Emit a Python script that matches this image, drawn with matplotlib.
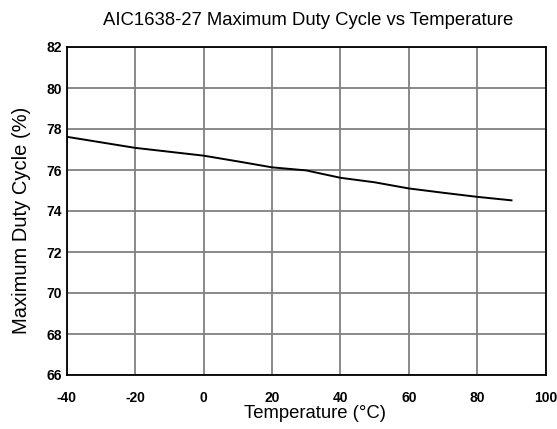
import matplotlib
matplotlib.use('Agg')
import matplotlib.pyplot as plt

plt.rcParams['font.family'] = ['Liberation Sans', 'DejaVu Sans']
plt.rcParams['axes.unicode_minus'] = False

temperature = [-40, -30, -20, -10, 0, 10, 20, 30, 40, 50, 60, 70, 80, 90]
duty_cycle = [77.62, 77.35, 77.08, 76.89, 76.70, 76.42, 76.13, 75.98,
              75.62, 75.40, 75.10, 74.89, 74.69, 74.52]
x_ticks = [-40, -20, 0, 20, 40, 60, 80, 100]
y_ticks = [66, 68, 70, 72, 74, 76, 78, 80, 82]

fig = plt.figure(figsize=(5.57, 4.29), dpi=100)
ax = fig.add_axes([66.7 / 557, 54 / 429, 479 / 557, 328 / 429])

ax.plot(temperature, duty_cycle, color='black', lw=1.4)

ax.set_xlim(-40, 100)
ax.set_ylim(66, 82)
ax.set_xticks(x_ticks)
ax.set_yticks(y_ticks)
ax.grid(True, color='#808080', lw=1.3)
ax.tick_params(length=0, labelsize=10)
ax.tick_params(axis='x', pad=11.5)
ax.tick_params(axis='y', pad=3.4)
for lbl in ax.get_xticklabels() + ax.get_yticklabels():
    lbl.set_fontweight('bold')
for s in ax.spines.values():
    s.set_linewidth(1.3)

fig.text(315 / 557, 1 - 414 / 429, 'Temperature (°C)', ha='center', va='center', fontsize=13.3)
fig.text(21.7 / 557, 1 - 220 / 429, 'Maximum Duty Cycle (%)', ha='center', va='center',
         rotation=90, fontsize=14.5)
fig.text(308 / 557, 1 - 20.7 / 429, 'AIC1638-27 Maximum Duty Cycle vs Temperature',
         ha='center', va='center', fontsize=13.3)

fig.savefig('out.png', dpi=100)
